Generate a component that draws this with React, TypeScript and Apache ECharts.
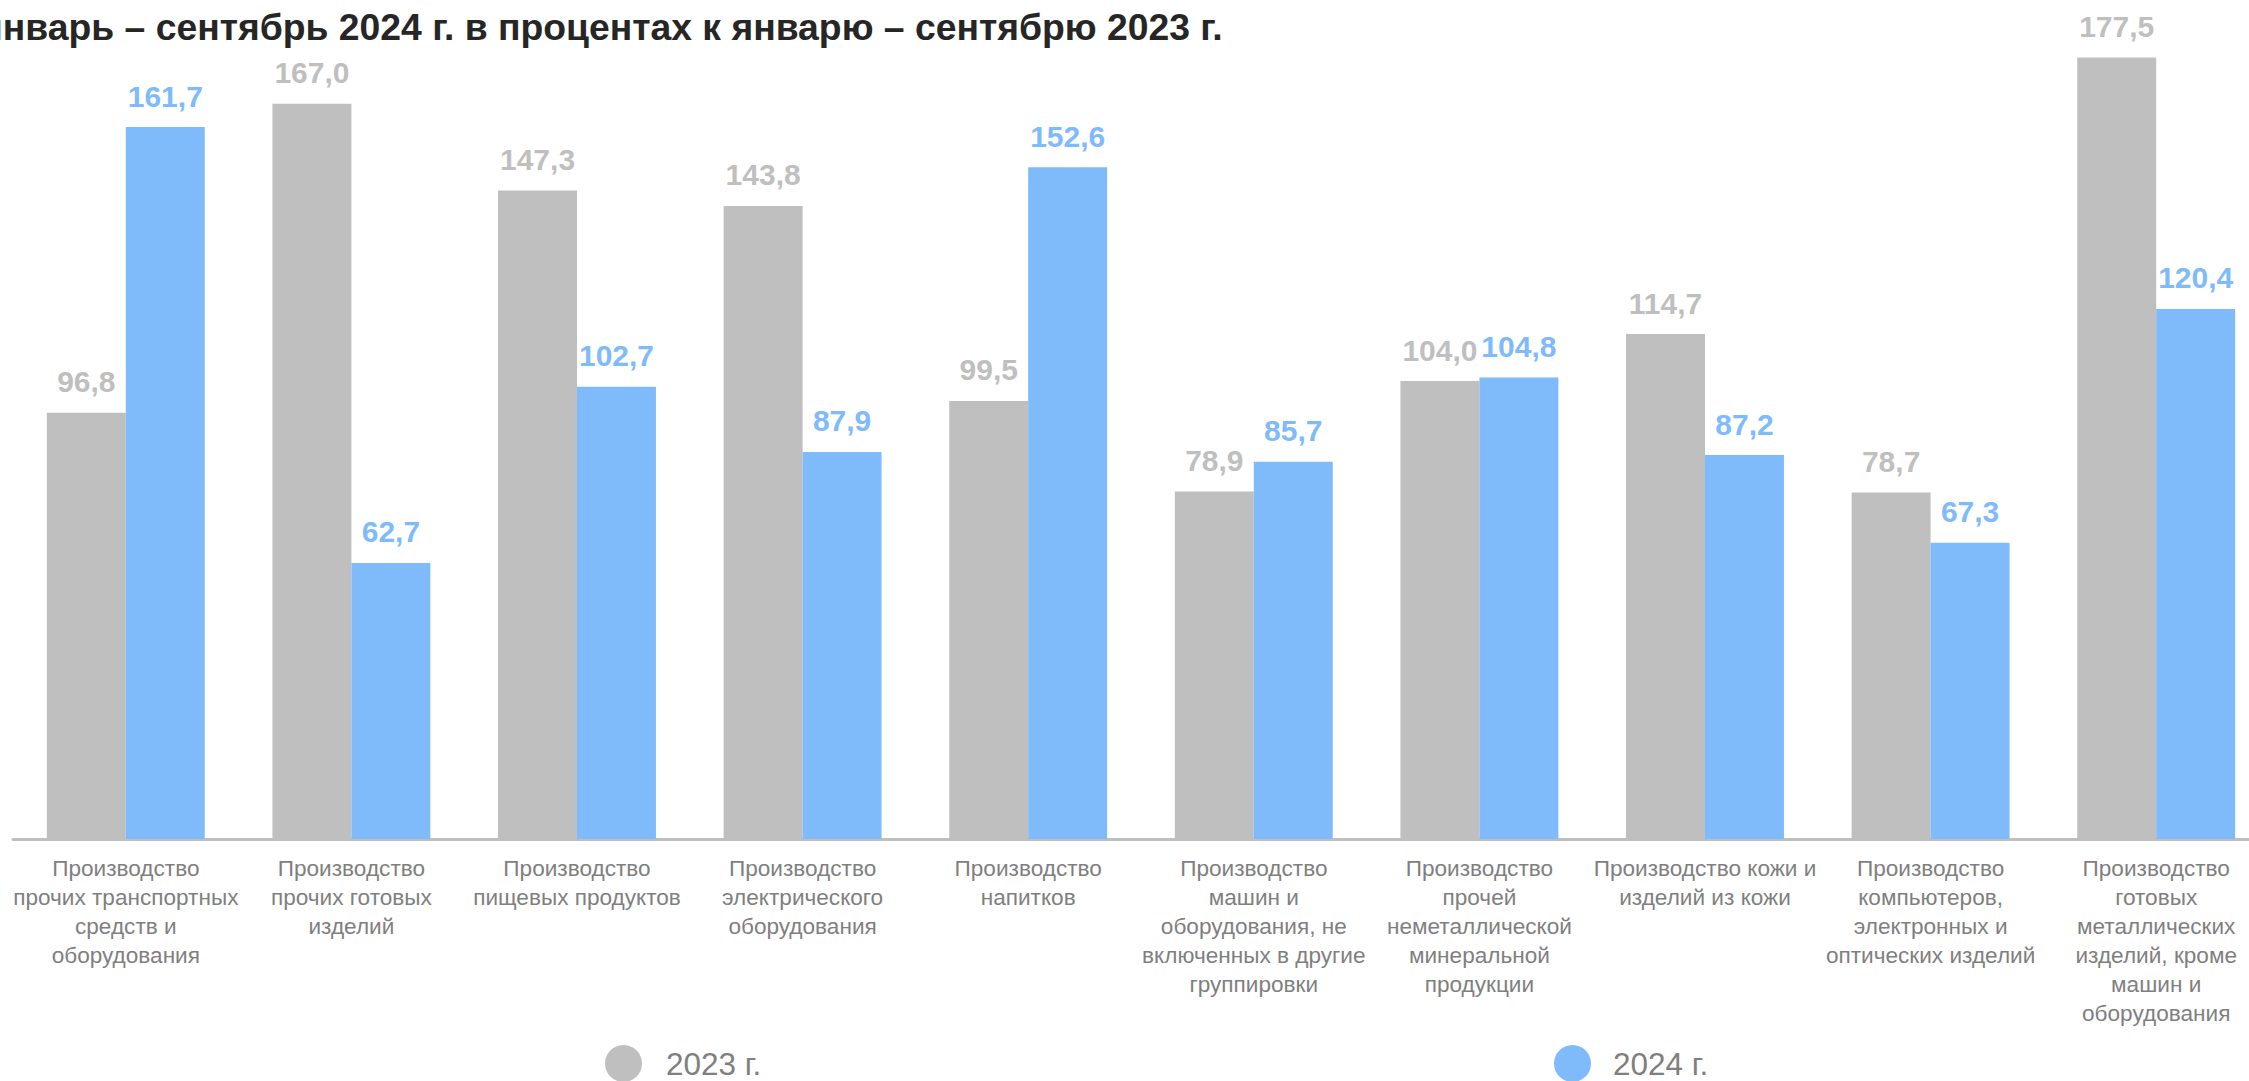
import React, { useEffect, useRef } from "react";
import * as echarts from "echarts";

const categories: string[] = [
  "Производство\nпрочих транспортных\nсредств и\nоборудования",
  "Производство\nпрочих готовых\nизделий",
  "Производство\nпищевых продуктов",
  "Производство\nэлектрического\nоборудования",
  "Производство\nнапитков",
  "Производство\nмашин и\nоборудования, не\nвключенных в другие\nгруппировки",
  "Производство\nпрочей\nнеметаллической\nминеральной\nпродукции",
  "Производство кожи и\nизделий из кожи",
  "Производство\nкомпьютеров,\nэлектронных и\nоптических изделий",
  "Производство\nготовых\nметаллических\nизделий, кроме\nмашин и\nоборудования",
];

const values2023: number[] = [96.8, 167.0, 147.3, 143.8, 99.5, 78.9, 104.0, 114.7, 78.7, 177.5];
const values2024: number[] = [161.7, 62.7, 102.7, 87.9, 152.6, 85.7, 104.8, 87.2, 67.3, 120.4];

const seriesNames: string[] = ["2023 г.", "2024 г."];
const titleText = "январь – сентябрь 2024 г. в процентах к январю – сентябрю 2023 г.";

const GRAY = "#bfbfbf";
const BLUE = "#7fbbfb";
const FONT = "'Liberation Sans', Arial, sans-serif";

const fmt = (v: number) => v.toFixed(1).replace(".", ",");

export default function App() {
  const ref = useRef<HTMLDivElement>(null);

  useEffect(() => {
    document.body.style.margin = "0";
    if (!ref.current) return;
    const chart = echarts.init(ref.current, null, { renderer: "svg" });
    const labelCommon = {
      show: true,
      position: "top" as const,
      distance: 16,
      fontSize: 30,
      fontWeight: "bold" as const,
      fontFamily: FONT,
      formatter: (p: any) => fmt(p.value),
    };
    chart.setOption({
      animation: false,
      backgroundColor: "#ffffff",
      title: {
        text: titleText,
        left: -19,
        top: 8,
        padding: 0,
        textStyle: {
          fontSize: 37.3,
          fontWeight: "bold",
          color: "#262626",
          fontFamily: FONT,
        },
      },
      legend: [
        {
          data: [seriesNames[0]],
          left: 605,
          top: 1045,
          icon: "circle",
          itemWidth: 37,
          itemHeight: 37,
          padding: 0,
          textStyle: { fontSize: 31.5, color: "#7f7f7f", fontFamily: FONT, padding: [0, 0, 0, 19] },
        },
        {
          data: [seriesNames[1]],
          left: 1554,
          top: 1045,
          icon: "circle",
          itemWidth: 37,
          itemHeight: 37,
          padding: 0,
          textStyle: { fontSize: 31.5, color: "#7f7f7f", fontFamily: FONT, padding: [0, 0, 0, 17] },
        },
      ],
      grid: {
        left: 13,
        right: -20,
        top: 46.5,
        height: 792.5,
        containLabel: false,
        outerBoundsMode: "none",
      },
      xAxis: {
        type: "category",
        data: categories,
        axisLine: { show: true, lineStyle: { color: GRAY, width: 3 } },
        axisTick: { show: false },
        axisLabel: {
          interval: 0,
          margin: 15,
          fontSize: 22.6,
          lineHeight: 29,
          color: "#7f7f7f",
          fontFamily: FONT,
          align: "center",
        },
      },
      yAxis: {
        type: "value",
        min: 0,
        max: 180,
        show: false,
        splitLine: { show: false },
      },
      series: [
        {
          name: seriesNames[0],
          type: "bar",
          data: values2023,
          barGap: "0%",
          barCategoryGap: "30%",
          itemStyle: { color: GRAY },
          label: { ...labelCommon, color: GRAY },
        },
        {
          name: seriesNames[1],
          type: "bar",
          data: values2024,
          barGap: "0%",
          barCategoryGap: "30%",
          itemStyle: { color: BLUE },
          label: { ...labelCommon, color: BLUE },
        },
      ],
    });
    return () => chart.dispose();
  }, []);

  return <div ref={ref} style={{ width: 2249, height: 1081 }} />;
}
